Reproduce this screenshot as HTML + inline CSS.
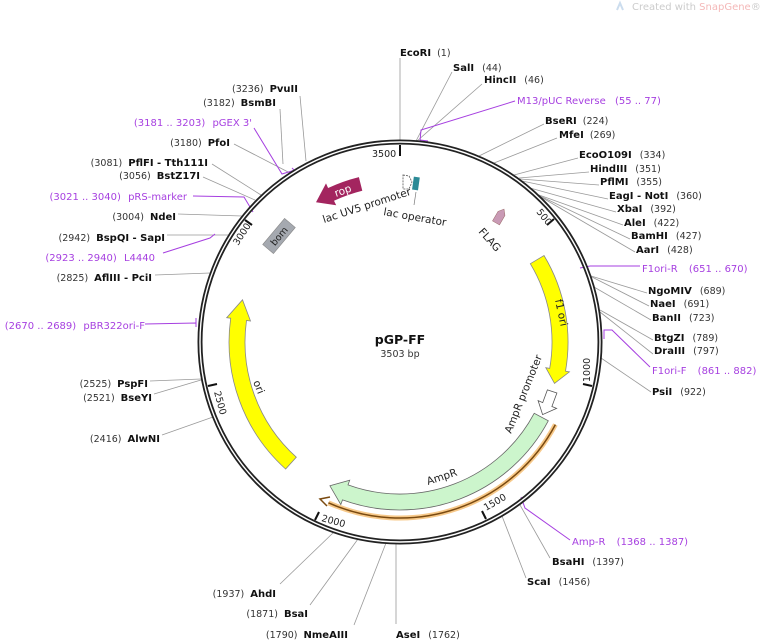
<!DOCTYPE html>
<html><head><meta charset="utf-8"><style>
html,body{margin:0;padding:0;background:#fff;}
svg{display:block;font-family:"DejaVu Sans","Liberation Sans",sans-serif;}
.b{font-weight:bold;font-size:10px;fill:#111;}
.n{font-size:9.5px;fill:#333;}
.p{font-size:10px;fill:#a63fe0;}
.pl{stroke:#a63fe0;stroke-width:1;fill:none;}
.l{stroke:#999;stroke-width:0.8;fill:none;}
.t{font-size:9.5px;fill:#222;}
</style></head><body>
<svg width="760" height="641" viewBox="0 0 760 641" xmlns="http://www.w3.org/2000/svg">
<text x="632" y="10" font-size="10" fill="#ccc">Created with <tspan fill="#f4b8b8">SnapGene</tspan>®</text>
<path d="M617,10 l3,-7 l3,7" stroke="#cde" fill="none" stroke-width="2"/>

<g class="l">
<line x1="400" y1="140" x2="400" y2="58"/>
<line x1="416" y1="141" x2="452" y2="72"/>
<line x1="417" y1="141" x2="482" y2="84"/>
<line x1="479" y1="156" x2="544" y2="124"/>
<line x1="494" y1="163" x2="557" y2="138"/>
<line x1="514" y1="175" x2="578" y2="158"/>
<line x1="519" y1="178" x2="589" y2="172"/>
<line x1="520" y1="179" x2="599" y2="185"/>
<line x1="522" y1="181" x2="608" y2="199"/>
<line x1="530" y1="188" x2="616" y2="212"/>
<line x1="539" y1="195" x2="623" y2="225"/>
<line x1="540" y1="196" x2="630" y2="239"/>
<line x1="541" y1="197" x2="635" y2="252"/>
<line x1="591" y1="276" x2="647" y2="293"/>
<line x1="592" y1="277" x2="649" y2="306"/>
<line x1="594" y1="287" x2="651" y2="320"/>
<line x1="600" y1="310" x2="653" y2="340"/>
<line x1="600" y1="312" x2="653" y2="354"/>
<line x1="601" y1="358" x2="651" y2="392"/>
<line x1="520" y1="505" x2="550" y2="558"/>
<line x1="502" y1="516" x2="526" y2="578"/>
<line x1="396" y1="544" x2="396" y2="624"/>
<line x1="386" y1="543" x2="354" y2="625"/>
<line x1="358" y1="539" x2="310" y2="605"/>
<line x1="334" y1="532" x2="280" y2="584"/>
<line x1="213" y1="417" x2="162" y2="435"/>
<line x1="201" y1="380" x2="154" y2="394"/>
<line x1="201" y1="379" x2="150" y2="381"/>
<line x1="210" y1="273" x2="155" y2="275"/>
<line x1="229" y1="235" x2="167" y2="235"/>
<line x1="242" y1="216" x2="178" y2="214"/>
<line x1="255" y1="200" x2="203" y2="177"/>
<line x1="261" y1="195" x2="212" y2="164"/>
<line x1="290" y1="173" x2="234" y2="144"/>
<line x1="283" y1="164" x2="280" y2="109"/>
<line x1="306" y1="161" x2="300" y2="96"/>
</g>
<g class="pl">
<polyline points="420,141 421,130 515,101"/><line x1="420" y1="140" x2="428" y2="141"/>
<polyline points="580,268 590,266 640,266"/>
<polyline points="604,339 604,330 612,330 650,367"/>
<polyline points="521,497 525,508 570,540"/>
<polyline points="196,324 196,323 145,324"/><line x1="196" y1="318" x2="196" y2="327"/>
<polyline points="215,234 210,238 163,253"/>
<polyline points="253,212 244,197 193,196"/>
<polyline points="295,170 282,174 254,128"/><line x1="292" y1="168" x2="296" y2="172"/>
</g>

<circle cx="400" cy="342" r="200" fill="none" stroke="#222" stroke-width="5"/>
<circle cx="400" cy="342" r="200" fill="none" stroke="#fff" stroke-width="1.4"/>

<g stroke="#111" stroke-width="2">
<line x1="400" y1="145" x2="400" y2="156"/>
<line x1="554" y1="219" x2="547" y2="225"/>
<line x1="592" y1="386" x2="583" y2="384"/>
<line x1="486" y1="519" x2="482" y2="511"/>
<line x1="315" y1="520" x2="319" y2="512"/>
<line x1="208" y1="386" x2="217" y2="384"/>
<line x1="245" y1="220" x2="252" y2="225"/>
</g>
<g class="t">
<text x="372" y="157">3500</text>
<text x="0" y="0" transform="translate(536,212) rotate(51)">500</text>
<text x="0" y="0" transform="translate(590,382) rotate(-90)">1000</text>
<text x="0" y="0" transform="translate(486,511) rotate(-30)">1500</text>
<text x="0" y="0" transform="translate(321,521) rotate(15)">2000</text>
<text x="0" y="0" transform="translate(214,392) rotate(75)">2500</text>
<text x="0" y="0" transform="translate(238,246) rotate(-57)">3000</text>
</g>

<path d="M544,255.5 A168 168 0 0 1 565.5,371.2 L569.4,371.9 L554.5,383.4 L545.8,367.7 L549.7,368.4 A152 152 0 0 0 530.3,263.7 Z" fill="#ffff00" stroke="#888" stroke-width="0.8"/>
<path d="M296.3,457.2 L285.6,469 A171 171 0 0 1 230.7,318.2 L226.7,317.7 L242.5,299.8 L250.5,321 L246.5,320.5 A155 155 0 0 0 296.3,457.2 Z" fill="#ffff00" stroke="#888" stroke-width="0.8"/>
<path d="M548.3,420.8 A168 168 0 0 1 342.5,499.9 L340.8,504.6 L329.9,485.8 L349.7,480.2 L348,484.9 A152 152 0 0 0 534.2,413.3 Z" fill="#ccf5cc" stroke="#666" stroke-width="0.8"/>
<path d="M555.4,424.6 A176 176 0 0 1 328.4,502.8" fill="none" stroke="#f7c98a" stroke-width="5"/>
<path d="M555.4,424.6 A176 176 0 0 1 328.4,502.8" fill="none" stroke="#7a4a10" stroke-width="1.5"/>
<path d="M330,497 L320,499 L327,506" fill="none" stroke="#7a4a10" stroke-width="1.5"/>
<path d="M547.4,389.9 L556.9,393 L551.9,406.5 L556.6,408.4 L542.6,414.6 L538.1,400.6 L542.7,402.6 Z" fill="#fff" stroke="#555" stroke-width="0.8"/>
<path d="M358.9,177.1 A170 170 0 0 0 328.1,188 L326,183.4 L316,202.3 L336.2,205.2 L334,200.7 A156 156 0 0 1 362.3,190.7 Z" fill="#a3255f"/>
<text x="0" y="0" transform="translate(336,197) rotate(-20)" font-size="10.5" fill="#fff">rop</text>
<g transform="translate(279,236) rotate(-50)"><rect x="-17" y="-7" width="34" height="14" fill="#a5a9b0" stroke="#888" stroke-width="0.6"/><text x="0" y="3.5" font-size="9.5" text-anchor="middle" fill="#222">bom</text></g>
<g transform="translate(500,216) rotate(-60)"><path d="M-8,-4 L3,-4 L8,0 L3,4 L-8,4 Z" fill="#c99ab5" stroke="#966" stroke-width="0.5"/></g>
<path d="M403,175 L409,176 L412,182 L409,189 L403,189 Z" fill="#fff" stroke="#555" stroke-width="0.8" stroke-dasharray="2,1"/>
<rect x="413" y="177" width="6" height="13" fill="#2b8a96" transform="rotate(8 416 183)"/>
<line x1="416" y1="192" x2="414" y2="205" stroke="#777" stroke-width="0.7"/>

<g font-size="10.5" fill="#222">
<text x="0" y="0" transform="translate(324,223) rotate(-18)">lac UV5 promoter</text>
<text x="0" y="0" transform="translate(383,215) rotate(10)">lac operator</text>
<text x="0" y="0" transform="translate(478,232) rotate(48)">FLAG</text>
<text x="0" y="0" transform="translate(555,300) rotate(78)">f1 ori</text>
<text x="0" y="0" transform="translate(253,382) rotate(68)">ori</text>
<text x="0" y="0" transform="translate(428,485) rotate(-18)">AmpR</text>
<text x="0" y="0" transform="translate(511,434) rotate(-68)">AmpR promoter</text>
</g>
<text x="400" y="344" text-anchor="middle" font-size="12.5" font-weight="bold" fill="#111">pGP-FF</text>
<text x="400" y="357" text-anchor="middle" font-size="9.5" fill="#333">3503 bp</text>

<text x="400" y="56"><tspan class="b">EcoRI</tspan><tspan class="n" dx="6">(1)</tspan></text>
<text x="453" y="71"><tspan class="b">SalI</tspan><tspan class="n" dx="8">(44)</tspan></text>
<text x="484" y="83"><tspan class="b">HincII</tspan><tspan class="n" dx="8">(46)</tspan></text>
<text x="517" y="104" class="p">M13/pUC Reverse <tspan dx="6">(55 .. 77)</tspan></text>
<text x="545" y="124"><tspan class="b">BseRI</tspan><tspan class="n" dx="6">(224)</tspan></text>
<text x="559" y="138"><tspan class="b">MfeI</tspan><tspan class="n" dx="6">(269)</tspan></text>
<text x="579" y="158"><tspan class="b">EcoO109I</tspan><tspan class="n" dx="8">(334)</tspan></text>
<text x="590" y="172"><tspan class="b">HindIII</tspan><tspan class="n" dx="8">(351)</tspan></text>
<text x="600" y="185"><tspan class="b">PflMI</tspan><tspan class="n" dx="8">(355)</tspan></text>
<text x="609" y="199"><tspan class="b">EagI  -  NotI</tspan><tspan class="n" dx="8">(360)</tspan></text>
<text x="617" y="212"><tspan class="b">XbaI</tspan><tspan class="n" dx="8">(392)</tspan></text>
<text x="624" y="226"><tspan class="b">AleI</tspan><tspan class="n" dx="8">(422)</tspan></text>
<text x="631" y="239"><tspan class="b">BamHI</tspan><tspan class="n" dx="8">(427)</tspan></text>
<text x="636" y="253"><tspan class="b">AarI</tspan><tspan class="n" dx="8">(428)</tspan></text>
<text x="642" y="272" class="p">F1ori-R <tspan dx="8">(651 .. 670)</tspan></text>
<text x="648" y="294"><tspan class="b">NgoMIV</tspan><tspan class="n" dx="8">(689)</tspan></text>
<text x="650" y="307"><tspan class="b">NaeI</tspan><tspan class="n" dx="8">(691)</tspan></text>
<text x="652" y="321"><tspan class="b">BanII</tspan><tspan class="n" dx="8">(723)</tspan></text>
<text x="654" y="341"><tspan class="b">BtgZI</tspan><tspan class="n" dx="8">(789)</tspan></text>
<text x="654" y="354"><tspan class="b">DraIII</tspan><tspan class="n" dx="8">(797)</tspan></text>
<text x="652" y="374" class="p">F1ori-F <tspan dx="8">(861 .. 882)</tspan></text>
<text x="652" y="395"><tspan class="b">PsiI</tspan><tspan class="n" dx="8">(922)</tspan></text>
<text x="572" y="545" class="p">Amp-R <tspan dx="8">(1368 .. 1387)</tspan></text>
<text x="552" y="565"><tspan class="b">BsaHI</tspan><tspan class="n" dx="8">(1397)</tspan></text>
<text x="527" y="585"><tspan class="b">ScaI</tspan><tspan class="n" dx="8">(1456)</tspan></text>
<text x="396" y="638"><tspan class="b">AseI</tspan><tspan class="n" dx="8">(1762)</tspan></text>
<g text-anchor="end">
<text x="348" y="638"><tspan class="n">(1790)</tspan><tspan class="b" dx="6">NmeAIII</tspan></text>
<text x="308" y="617"><tspan class="n">(1871)</tspan><tspan class="b" dx="6">BsaI</tspan></text>
<text x="276" y="597"><tspan class="n">(1937)</tspan><tspan class="b" dx="6">AhdI</tspan></text>
<text x="160" y="442"><tspan class="n">(2416)</tspan><tspan class="b" dx="6">AlwNI</tspan></text>
<text x="152" y="401"><tspan class="n">(2521)</tspan><tspan class="b" dx="6">BseYI</tspan></text>
<text x="148" y="387"><tspan class="n">(2525)</tspan><tspan class="b" dx="6">PspFI</tspan></text>
<text x="145" y="329" class="p">(2670 .. 2689) <tspan dx="4">pBR322ori-F</tspan></text>
<text x="152" y="281"><tspan class="n">(2825)</tspan><tspan class="b" dx="6">AflIII  -  PciI</tspan></text>
<text x="155" y="261" class="p">(2923 .. 2940) <tspan dx="4">L4440</tspan></text>
<text x="165" y="241"><tspan class="n">(2942)</tspan><tspan class="b" dx="6">BspQI  -  SapI</tspan></text>
<text x="176" y="220"><tspan class="n">(3004)</tspan><tspan class="b" dx="6">NdeI</tspan></text>
<text x="187" y="200" class="p">(3021 .. 3040) <tspan dx="4">pRS-marker</tspan></text>
<text x="200" y="179"><tspan class="n">(3056)</tspan><tspan class="b" dx="6">BstZ17I</tspan></text>
<text x="208" y="166"><tspan class="n">(3081)</tspan><tspan class="b" dx="6">PflFI  -  Tth111I</tspan></text>
<text x="230" y="146"><tspan class="n">(3180)</tspan><tspan class="b" dx="6">PfoI</tspan></text>
<text x="252" y="126" class="p">(3181 .. 3203) <tspan dx="4">pGEX 3'</tspan></text>
<text x="276" y="106"><tspan class="n">(3182)</tspan><tspan class="b" dx="6">BsmBI</tspan></text>
<text x="298" y="92"><tspan class="n">(3236)</tspan><tspan class="b" dx="6">PvuII</tspan></text>
</g>
</svg>
</body></html>
